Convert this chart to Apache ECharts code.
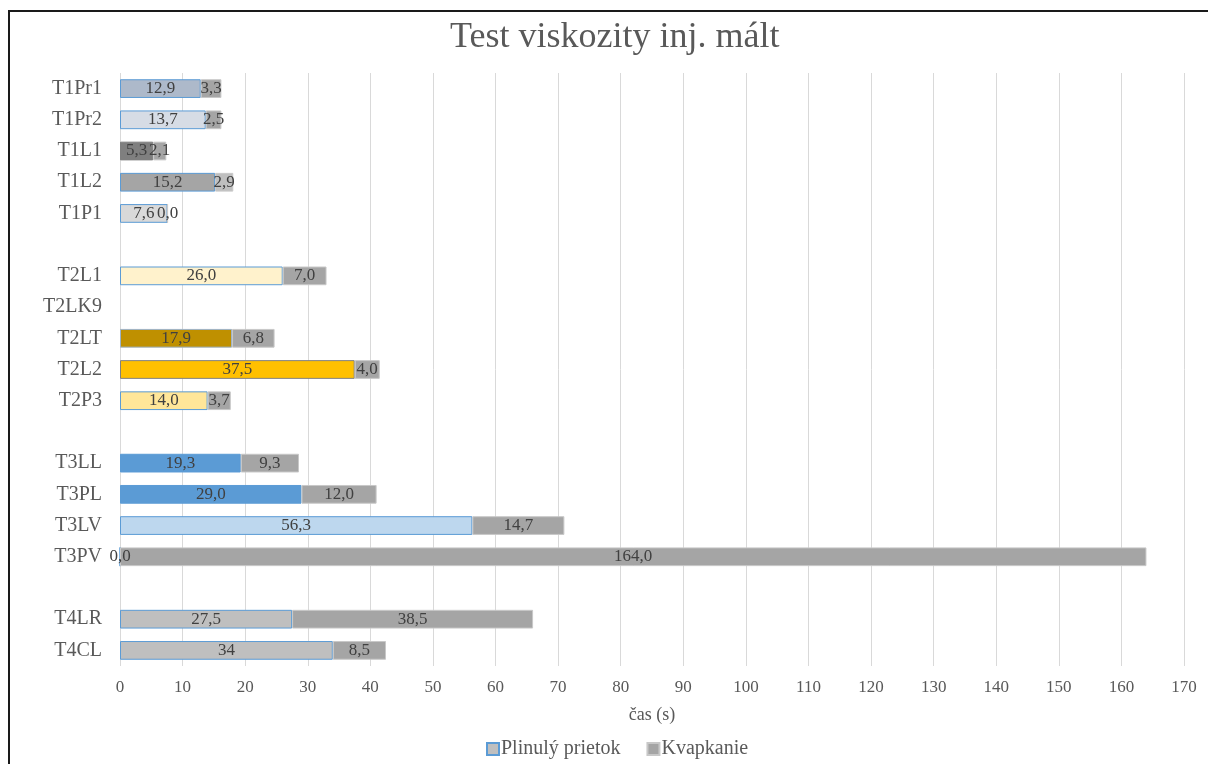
<!DOCTYPE html>
<html>
<head>
<meta charset="utf-8">
<script src="https://cdn.jsdelivr.net/npm/echarts@6/dist/echarts.min.js"></script>
<style>
  html, body { margin: 0; padding: 0; background: #fff; overflow: hidden; }
  #chart { position: absolute; left: 0; top: 0; width: 1208px; height: 764px; }
  #frame { position: absolute; left: 8px; top: 10px; width: 1400px; height: 900px;
           border: 2px solid #1a1a1a; box-sizing: border-box; pointer-events: none; z-index: 5; }
</style>
</head>
<body>
<div id="chart"></div>
<div id="frame"></div>
<script>
// Samples (whitespace entries are spacer rows between test groups)
const categories = ['T1Pr1', 'T1Pr2', 'T1L1', 'T1L2', 'T1P1', ' ',
  'T2L1', 'T2LK9', 'T2LT', 'T2L2', 'T2P3', '  ',
  'T3LL', 'T3PL', 'T3LV', 'T3PV', '   ',
  'T4LR', 'T4CL'];

// Time of continuous flow (s)
const plinulyPrietok = [12.9, 13.7, 5.3, 15.2, 7.6, null,
  26.0, null, 17.9, 37.5, 14.0, null,
  19.3, 29.0, 56.3, 0.0, null,
  27.5, 34];
// Decimals shown in the flow labels
const plinulyDecimals = [1, 1, 1, 1, 1, 1, 1, 1, 1, 1, 1, 1, 1, 1, 1, 1, 1, 1, 0];

// Time of dripping (s)
const kvapkanie = [3.3, 2.5, 2.1, 2.9, 0.0, null,
  7.0, null, 6.8, 4.0, 3.7, null,
  9.3, 12.0, 14.7, 164.0, null,
  38.5, 8.5];

// Fill colours per sample
const plinulyColors = ['#ADB9CA', '#D6DCE5', '#7F7F7F', '#A5A5A5', '#D9D9D9', null,
  '#FFF2CC', null, '#BF9000', '#FFC000', '#FFE699', null,
  '#5B9BD5', '#5B9BD5', '#BDD7EE', '#BFBFBF', null,
  '#BFBFBF', '#BFBFBF'];
const plinulyBorders = ['#5B9BD5', '#5B9BD5', '#7F7F7F', '#5B9BD5', '#5B9BD5', null,
  '#5B9BD5', null, '#9DB3C9', '#808080', '#5B9BD5', null,
  '#5B9BD5', '#5B9BD5', '#5B9BD5', '#5B9BD5', null,
  '#5B9BD5', '#5B9BD5'];
const kvapkanieColors = ['#A5A5A5', '#A5A5A5', '#A5A5A5', '#BFBFBF', '#A5A5A5', null,
  '#A5A5A5', null, '#A5A5A5', '#A5A5A5', '#A5A5A5', null,
  '#A5A5A5', '#A5A5A5', '#A5A5A5', '#A5A5A5', null,
  '#A5A5A5', '#A5A5A5'];

const FONT = '"Liberation Serif", "Times New Roman", serif';

function fmt(v, d) {
  return v.toFixed(d).replace('.', ',');
}

const chart = echarts.init(document.getElementById('chart'), null, { renderer: 'canvas' });

const flowData = plinulyPrietok.map((v, i) => v === null ? null : ({
  value: v,
  itemStyle: { color: plinulyColors[i], borderColor: plinulyBorders[i], borderWidth: 1 },
  label: { formatter: () => fmt(v, plinulyDecimals[i]) }
}));
const dripData = kvapkanie.map((v, i) => v === null ? null : ({
  value: v,
  itemStyle: { color: kvapkanieColors[i] },
  label: { formatter: () => fmt(v, 1) }
}));

chart.setOption({
  animation: false,
  backgroundColor: '#fff',
  textStyle: { fontFamily: FONT },
  title: {
    text: 'Test viskozity inj. mált',
    left: 445,
    top: 15,
    textStyle: { fontFamily: FONT, fontSize: 36, fontWeight: 'normal', color: '#595959' }
  },
  legend: {
    bottom: 0,
    left: 481,
    itemWidth: 12,
    itemHeight: 12,
    itemGap: 26,
    icon: 'rect',
    textStyle: { fontFamily: FONT, fontSize: 20, color: '#595959', padding: [0, 0, 0, -3] },
    data: ['Plinulý prietok', 'Kvapkanie']
  },
  grid: { left: 120, right: 24, top: 73, bottom: 98, containLabel: false },
  xAxis: {
    type: 'value',
    min: 0,
    max: 170,
    interval: 10,
    name: 'čas (s)',
    nameLocation: 'middle',
    nameGap: 40,
    nameTextStyle: { fontFamily: FONT, fontSize: 18, color: '#595959' },
    axisLine: { show: false },
    axisTick: { show: false },
    axisLabel: { fontFamily: FONT, fontSize: 17, color: '#595959', margin: 13 },
    splitLine: { show: true, lineStyle: { color: '#D9D9D9', width: 1 } }
  },
  yAxis: {
    type: 'category',
    inverse: true,
    data: categories,
    axisLine: { show: false },
    axisTick: { show: false },
    axisLabel: { fontFamily: FONT, fontSize: 20, color: '#595959', margin: 18 }
  },
  series: [
    {
      name: 'Plinulý prietok',
      type: 'bar',
      stack: 'cas',
      barWidth: '60%',
      itemStyle: { color: '#BFBFBF', borderColor: '#5B9BD5', borderWidth: 1 },
      label: { show: true, position: 'inside', fontFamily: FONT, fontSize: 17, color: '#404040' },
      data: flowData
    },
    {
      name: 'Kvapkanie',
      type: 'bar',
      stack: 'cas',
      barWidth: '60%',
      itemStyle: { color: '#A5A5A5', borderColor: '#C8C8C8', borderWidth: 1 },
      label: { show: true, position: 'inside', fontFamily: FONT, fontSize: 17, color: '#404040' },
      data: dripData
    }
  ]
});
</script>
</body>
</html>
